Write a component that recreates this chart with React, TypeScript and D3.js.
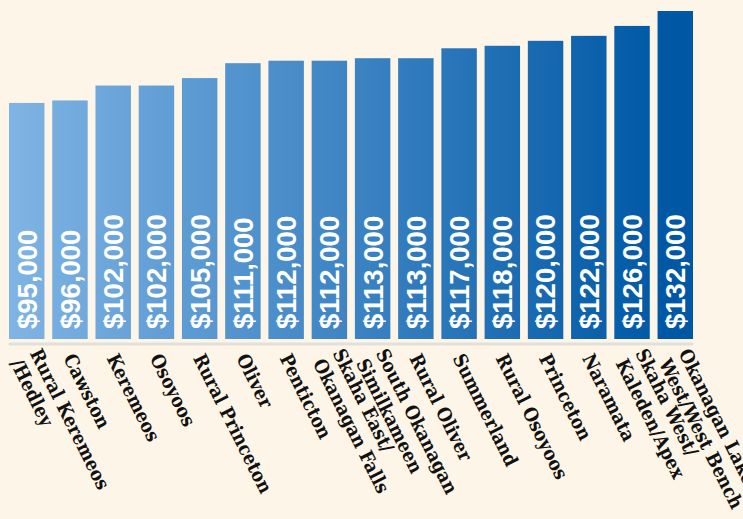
import React from 'react';
import * as d3 from 'd3';

const regions: string[][] = [
  ['Rural Keremeos', '/Hedley'],
  ['Cawston'],
  ['Keremeos'],
  ['Osoyoos'],
  ['Rural Princeton'],
  ['Oliver'],
  ['Penticton'],
  ['Skaha East/', 'Okanagan Falls'],
  ['South Okanagan', 'Similkameen'],
  ['Rural Oliver'],
  ['Summerland'],
  ['Rural Osoyoos'],
  ['Princeton'],
  ['Naramata'],
  ['Skaha West/', 'Kaleden/Apex'],
  ['Okanagan Lake', 'West/West Bench'],
];

const incomes: number[] = [
  95000, 96000, 102000, 102000, 105000, 111000, 112000, 112000,
  113000, 113000, 117000, 118000, 120000, 122000, 126000, 132000,
];

const width = 743;
const height = 519;
const baseY = 339;

export default function App() {
  const keys = regions.map((r) => r.join(' '));

  const x = d3.scaleBand<string>()
    .domain(keys)
    .range([9, 693])
    .paddingInner(0.18)
    .paddingOuter(0);

  const y = d3.scaleLinear()
    .domain([0, 132000])
    .range([baseY, 11]);

  const fmt = d3.format('$,');
  const lineH = 22;

  return (
    <svg
      width={width}
      height={height}
      style={{ position: 'absolute', left: 0, top: 0, background: '#fdf5e7' }}
    >
      <defs>
        <linearGradient id="barGrad" gradientUnits="userSpaceOnUse" x1={9} y1={0} x2={660} y2={0}>
          <stop offset="0%" stopColor="#80b4e4" />
          <stop offset="100%" stopColor="#0058a5" />
        </linearGradient>
      </defs>

      {incomes.map((v, i) => (
        <rect
          key={keys[i]}
          x={x(keys[i])}
          y={y(v)}
          width={x.bandwidth()}
          height={baseY - y(v)}
          fill="url(#barGrad)"
        />
      ))}

      {incomes.map((v, i) => {
        const cx = (x(keys[i]) || 0) + x.bandwidth() / 2;
        return (
          <text
            key={'v' + i}
            transform={`translate(${cx},329) rotate(-90)`}
            dy="0.36em"
            fill="#fff"
            fontFamily="'Liberation Sans', Arial, sans-serif"
            fontWeight="bold"
            fontSize={27.5}
          >
            {fmt(v)}
          </text>
        );
      })}

      <line x1={10} x2={692} y1={344} y2={344} stroke="#e3e0da" strokeWidth={3} strokeLinecap="round" />

      {regions.map((lines, i) => {
        const cx = (x(keys[i]) || 0) + x.bandwidth() / 2;
        const off = -((lines.length - 1) / 2) * lineH;
        return (
          <text
            key={'l' + i}
            transform={`translate(${cx - 1},355) rotate(63.5)`}
            fill="#111"
            fontFamily="'DejaVu Serif Condensed', 'DejaVu Serif', serif"
            fontWeight="bold"
            fontSize={19}
          >
            {lines.map((ln, j) => (
              <tspan key={j} x={0} y={off + j * lineH} dy="0.35em">{ln}</tspan>
            ))}
          </text>
        );
      })}
    </svg>
  );
}
